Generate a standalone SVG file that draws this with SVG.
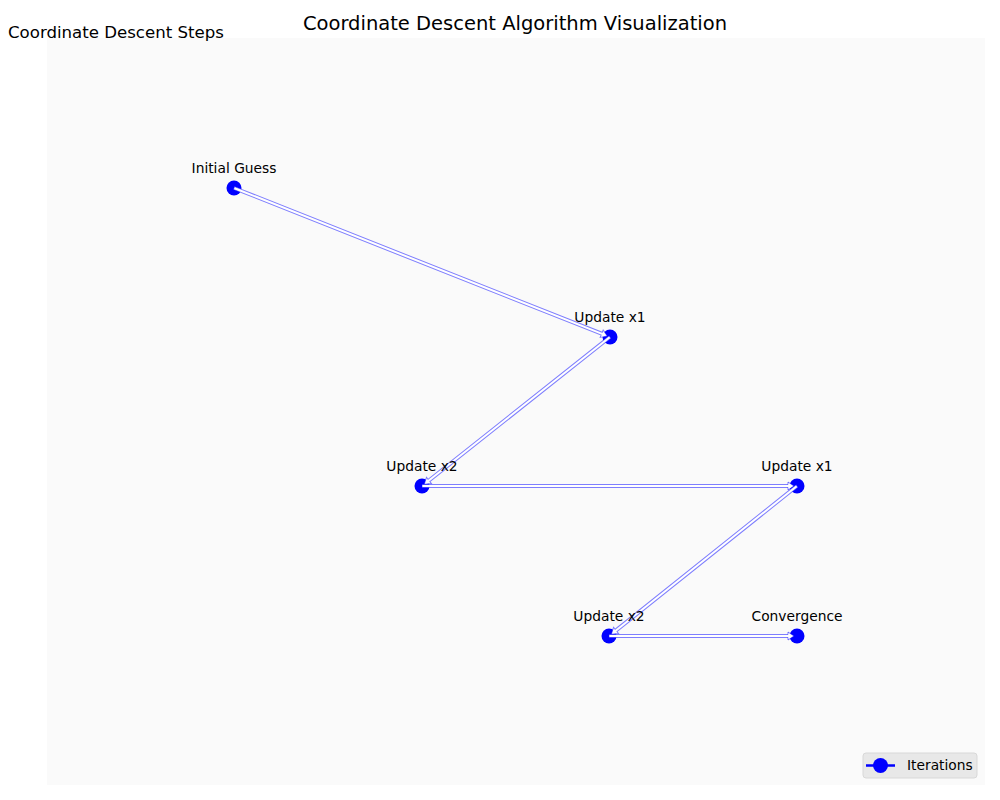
<svg xmlns="http://www.w3.org/2000/svg" width="1000" height="800" viewBox="0 0 1000 800">
<style>
text{font-family:"DejaVu Sans","Liberation Sans",sans-serif;fill:#000}
.lbl{font-size:13.8px;text-anchor:middle}
.node{fill:#0000ff}
.arr{fill:#ffffff;stroke:#0000ff;stroke-opacity:0.5;stroke-width:1;stroke-linejoin:miter}
</style>
<rect x="0" y="0" width="1000" height="800" fill="#ffffff"/>
<rect x="47" y="38" width="938" height="747" fill="#fafafa"/>
<text x="515" y="30" font-size="19.5" text-anchor="middle">Coordinate Descent Algorithm Visualization</text>
<text x="8" y="38" font-size="16.6">Coordinate Descent Steps</text>
<g id="n1"><circle class="node" cx="234" cy="188" r="7.5"/></g>
<g id="n2"><circle class="node" cx="610" cy="337" r="7.5"/></g>
<g id="n3"><circle class="node" cx="422" cy="486" r="7.5"/></g>
<g id="n4"><circle class="node" cx="797" cy="486" r="7.5"/></g>
<g id="n5"><circle class="node" cx="609" cy="636" r="7.5"/></g>
<g id="n6"><circle class="node" cx="797" cy="636" r="7.5"/></g>
<g id="connectors">
<polygon class="arr" transform="translate(234,188) rotate(21.62)" points="0,-1.5 395.5,-1.5 395.5,-4 401.5,0 395.5,4 395.5,1.5 0,1.5"/>
<polygon class="arr" transform="translate(610,337) rotate(141.6)" points="0,-1.5 231,-1.5 231,-4 237,0 231,4 231,1.5 0,1.5"/>
<polygon class="arr" transform="translate(422,486)" points="0,-1.5 366,-1.5 366,-4 372,0 366,4 366,1.5 0,1.5"/>
<polygon class="arr" transform="translate(797,486) rotate(141.41)" points="0,-1.5 231.5,-1.5 231.5,-4 237.5,0 231.5,4 231.5,1.5 0,1.5"/>
<polygon class="arr" transform="translate(609,636)" points="0,-1.5 179,-1.5 179,-4 185,0 179,4 179,1.5 0,1.5"/>
</g>
<g id="labels">
<text id="t1" class="lbl" x="234" y="173">Initial Guess</text>
<text id="t2" class="lbl" x="610" y="322">Update x1</text>
<text id="t3" class="lbl" x="422" y="471">Update x2</text>
<text id="t4" class="lbl" x="797" y="471">Update x1</text>
<text id="t5" class="lbl" x="609" y="621">Update x2</text>
<text id="t6" class="lbl" x="797" y="621">Convergence</text>
</g>
<g id="legend">
<rect x="863" y="753" width="114" height="25" rx="3" fill="#e8e8e8" stroke="#d8d8d8" stroke-width="1"/>
<line x1="866" y1="765.5" x2="895" y2="765.5" stroke="#0000ff" stroke-width="2.5"/>
<circle cx="880.5" cy="765.5" r="7.5" fill="#0000ff"/>
<text x="907" y="770" font-size="13.8">Iterations</text>
</g>
</svg>
